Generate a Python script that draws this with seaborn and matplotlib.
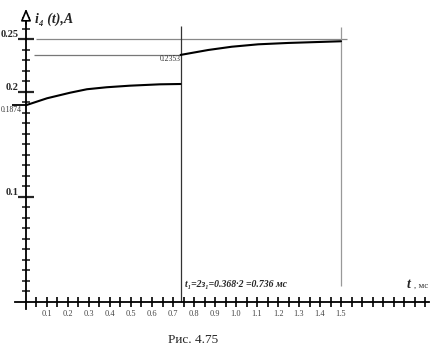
import numpy as np
import pandas as pd
import matplotlib
matplotlib.use("Agg")
import matplotlib.pyplot as plt
from matplotlib.ticker import FixedLocator
import seaborn as sns

# curve before the switch (t in ms, current in A)
t_before = [0.0, 0.1, 0.21, 0.29, 0.384, 0.495, 0.638, 0.736]
i_before = [0.1874, 0.1940, 0.1993, 0.2026, 0.2045, 0.2060, 0.2073, 0.2076]

# curve after the switch
t_after = [0.736, 0.868, 0.98, 1.106, 1.249, 1.392, 1.5]
i_after = [0.2353, 0.2400, 0.2431, 0.2454, 0.2467, 0.2476, 0.2483]

i_start = 0.1874
i_jump = 0.2353
i_steady = 0.25
t1 = 0.736
t_end = 1.5

x_labels = ['0.1', '0.2', '0.3', '0.4', '0.5', '0.6', '0.7', '0.8', '0.9',
            '1.0', '1.1', '1.2', '1.3', '1.4', '1.5']
y_major = [0.1, 0.2, 0.25]
y_labels = ['0.1', '0.2', '0.25']

df1 = pd.DataFrame({'t': t_before, 'i': i_before})
df2 = pd.DataFrame({'t': t_after, 'i': i_after})

sns.set_theme(style='white')
plt.rcParams['font.family'] = ['Liberation Serif', 'DejaVu Serif']

fig = plt.figure(figsize=(4.35, 3.55), dpi=100)
ax = fig.add_axes([0, 0, 1, 1])
ax.set_xlim(-0.1238, 1.9476)
ax.set_ylim(-0.0505, 0.2876)

# reference lines
ax.hlines(i_jump, 0.04, t1, color='#777777', lw=0.9)
ax.hlines(i_steady, 0.05, 1.53, color='#888888', lw=0.9)
ax.vlines(t1, 0, 0.263, color='#333333', lw=0.9)
ax.vlines(t_end, 0.015, 0.262, color='#999999', lw=0.9)
ax.hlines(i_start, -0.067, 0, color='black', lw=1.3)

# the curves
sns.lineplot(data=df1, x='t', y='i', color='black', lw=1.5, ax=ax)
sns.lineplot(data=df2, x='t', y='i', color='black', lw=1.5, ax=ax)

# axes through the origin
for s in ['top', 'right']:
    ax.spines[s].set_visible(False)
ax.spines['left'].set_position(('data', 0))
ax.spines['bottom'].set_position(('data', 0))
ax.spines['left'].set_bounds(-0.007, 0.268)
ax.spines['bottom'].set_bounds(-0.05, 1.92)
for s in ['left', 'bottom']:
    ax.spines[s].set_color('black')
    ax.spines[s].set_linewidth(1.3)

ax.annotate('', xy=(0, 0.282), xytext=(0, 0.262),
            arrowprops=dict(arrowstyle='-|>,head_length=0.6,head_width=0.25',
                            fc='white', ec='black', lw=1.2))
ax.annotate('', xy=(1.95, 0), xytext=(1.88, 0),
            arrowprops=dict(arrowstyle='-|>,head_length=0.7,head_width=0.22',
                            fc='white', ec='black', lw=1.2))

x_major = [float(v) for v in x_labels]
ax.xaxis.set_major_locator(FixedLocator(x_major))
ax.set_xticklabels(x_labels)
x_minor = [round(0.05 * k, 2) for k in range(1, 39)]
ax.xaxis.set_minor_locator(FixedLocator([v for v in x_minor if round(v * 10, 6) % 1 != 0 or v > 1.5]))
ax.tick_params(axis='x', which='both', direction='inout', length=7, width=1.2,
               color='black', labelsize=6, labelcolor='#444444', pad=2, bottom=True)

ax.yaxis.set_major_locator(FixedLocator(y_major))
ax.set_yticklabels(y_labels, fontweight='bold')
y_minor = [round(0.01 * k, 2) for k in range(1, 28) if k not in (10, 20, 25)]
ax.yaxis.set_minor_locator(FixedLocator(y_minor))
ax.tick_params(axis='y', which='major', direction='inout', length=11, width=1.6,
               labelsize=7.5, pad=0, left=True)
ax.tick_params(axis='y', which='minor', direction='inout', length=6, width=1.2, left=True)
for lab in ax.get_yticklabels():
    lab.set_verticalalignment('bottom')
ax.grid(False)
ax.set_xlabel('')
ax.set_ylabel('')

# texts
ax.text(-0.118, i_start - 0.006, '0.1874', fontsize=5.5, color='#333333')
ax.text(t1 - 0.1, i_jump - 0.0055, '0.2353', fontsize=5.5, color='#333333')
ax.text(t1 + 0.02, 0.014, 't\u2081=2з\u2081=0.368·2 =0.736 мс', fontsize=7,
        fontweight='bold', fontstyle='italic')
fig.text(0.08, 0.945, 'i\u2084 (t),A', fontsize=10, fontweight='bold',
         fontstyle='italic', va='center')
fig.text(0.935, 0.198, 't', fontsize=10, fontweight='bold', fontstyle='italic', va='center')
fig.text(0.952, 0.196, ', мс', fontsize=6.5, va='center', color='#333333')
fig.text(0.444, 0.042, 'Рис. 4.75', fontsize=9.5, ha='center', va='center')

fig.savefig('out.png', dpi=100)
